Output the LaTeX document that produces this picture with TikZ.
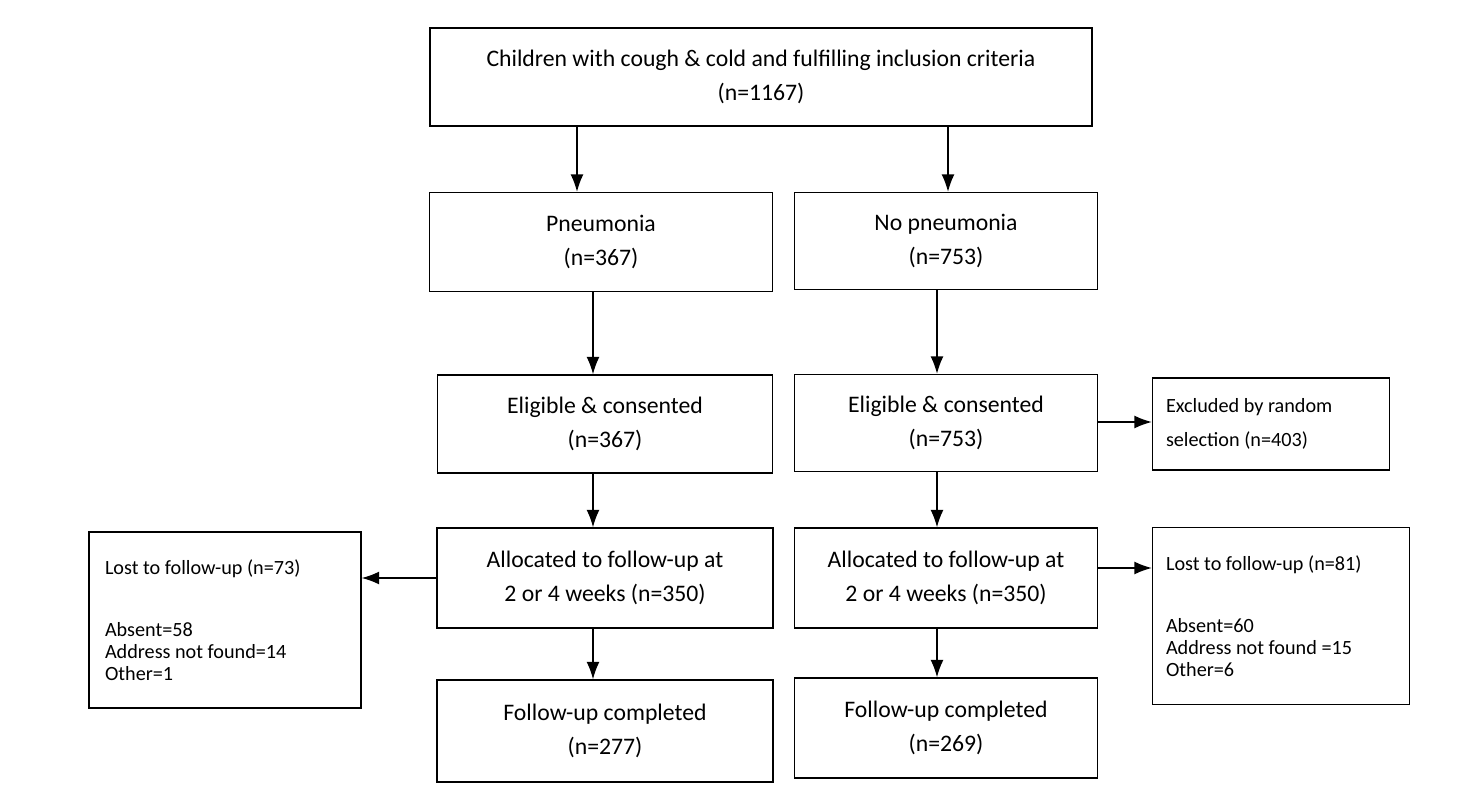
\documentclass[tikz,border=0pt]{standalone}
\usepackage{fontspec}
\setmainfont{Carlito}
\usetikzlibrary{positioning,arrows.meta}
\tikzset{
  box/.style={draw, thick, align=center, font=\fontsize{13.5}{19.5}\selectfont},
  side/.style={draw, thick, align=flush left, font=\fontsize{11.5}{12.5}\selectfont},
  arr/.style={-{Latex[length=3.5mm,width=2.6mm]}, thick}
}
\begin{document}
\begin{tikzpicture}[x=0.02cm, y=-0.02cm]
\useasboundingbox (0,0) rectangle (1463,800);
\node[box, minimum width=662*0.02cm, minimum height=98*0.02cm] (top) at (761,77) {Children with cough \& cold and fulfilling inclusion criteria\\(n=1167)};
% left column
\node[box, minimum width=343*0.02cm, minimum height=99*0.02cm] (pn) at (601,242) {Pneumonia\\(n=367)};
\node[box, minimum width=335*0.02cm, minimum height=98*0.02cm] (elL) at (605,424) {Eligible \& consented\\(n=367)};
\node[box, minimum width=336*0.02cm, minimum height=100*0.02cm] (alL) at (605,578) {Allocated to follow-up at\\2 or 4 weeks (n=350)};
\node[box, minimum width=336*0.02cm, minimum height=102*0.02cm] (fuL) at (605,731) {Follow-up completed\\(n=277)};
\node[side, minimum width=272*0.02cm, minimum height=176*0.02cm, text width=240*0.02cm] (loL) at (225,620) {Lost to follow-up (n=73)\\[0.8cm]Absent=58\\Address not found=14\\Other=1\\[0.6cm]};
% right column
\node[box, minimum width=303*0.02cm, minimum height=97*0.02cm] (np) at (946,241) {No pneumonia\\(n=753)};
\node[box, minimum width=303*0.02cm, minimum height=97*0.02cm] (elR) at (946,423) {Eligible \& consented\\(n=753)};
\node[side, minimum width=237*0.02cm, minimum height=92*0.02cm, text width=210*0.02cm] (ex) at (1271,424) {Excluded by random\\[2.5mm]selection (n=403)};
\node[box, minimum width=303*0.02cm, minimum height=100*0.02cm] (alR) at (946,578) {Allocated to follow-up at\\2 or 4 weeks (n=350)};
\node[box, minimum width=303*0.02cm, minimum height=100*0.02cm] (fuR) at (946,728) {Follow-up completed\\(n=269)};
\node[side, minimum width=257*0.02cm, minimum height=177*0.02cm, text width=230*0.02cm] (loR) at (1281,616) {Lost to follow-up (n=81)\\[0.8cm]Absent=60\\Address not found =15\\Other=6\\[0.6cm]};
% arrows
\draw[arr] (top.south -| 577,0) -- (pn.north -| 577,0);
\draw[arr] (top.south -| 948,0) -- (np.north -| 948,0);
\draw[arr] (pn.south -| 593,0) -- (elL.north -| 593,0);
\draw[arr] (np.south -| 937,0) -- (elR.north -| 937,0);
\draw[arr] (elL.south -| 593,0) -- (alL.north -| 593,0);
\draw[arr] (elR.south -| 937,0) -- (alR.north -| 937,0);
\draw[arr] (alL.south -| 593,0) -- (fuL.north -| 593,0);
\draw[arr] (alR.south -| 937,0) -- (fuR.north -| 937,0);
\draw[arr] (alL.west |- 0,578) -- (loL.east |- 0,578);
\draw[arr] (alR.east |- 0,568) -- (loR.west |- 0,568);
\draw[arr] (elR.east |- 0,422) -- (ex.west |- 0,422);
\end{tikzpicture}
\end{document}
